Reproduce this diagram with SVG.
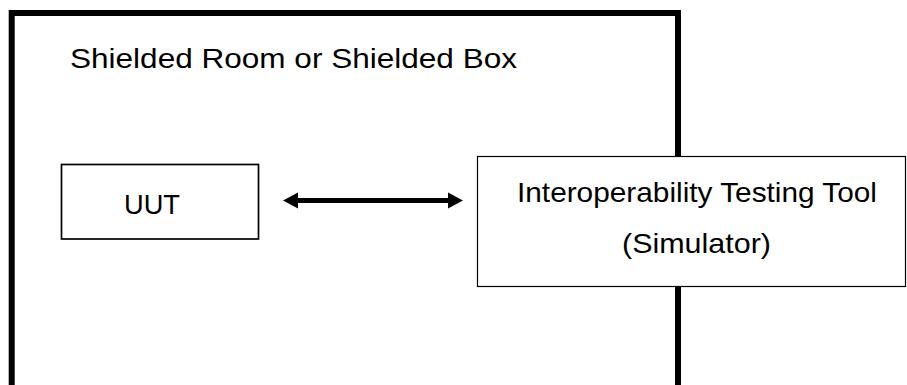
<svg xmlns="http://www.w3.org/2000/svg" width="907" height="385" viewBox="0 0 907 385">
<style>
.t{font-family:"Liberation Sans",Arial,sans-serif;font-size:28px;fill:#000}
.box{fill:#fff;stroke:#000}
</style>
<rect width="907" height="385" fill="#fff"/>
<g id="room">
<path d="M11.7 390 V13 H678 V390" fill="none" stroke="#000" stroke-width="6"/>
<text class="t" x="70" y="68" textLength="447" lengthAdjust="spacingAndGlyphs">Shielded Room or Shielded Box</text>
</g>
<g id="uut">
<rect class="box" x="61.5" y="164.5" width="197" height="74.5" stroke-width="1.7"/>
<text class="t" x="124" y="214" textLength="56" lengthAdjust="spacingAndGlyphs">UUT</text>
</g>
<g id="connectors">
<polygon points="283,200.5 298,192.5 298,198 448,198 448,192.5 463,200.5 448,208.5 448,203 298,203 298,208.5" fill="#000"/>
</g>
<g id="tool">
<rect class="box" x="477.5" y="156.5" width="428" height="130" stroke-width="1.2"/>
<text class="t" x="517" y="202" textLength="360" lengthAdjust="spacingAndGlyphs">Interoperability Testing Tool</text>
<text class="t" x="622" y="253" textLength="149" lengthAdjust="spacingAndGlyphs">(Simulator)</text>
</g>
</svg>
